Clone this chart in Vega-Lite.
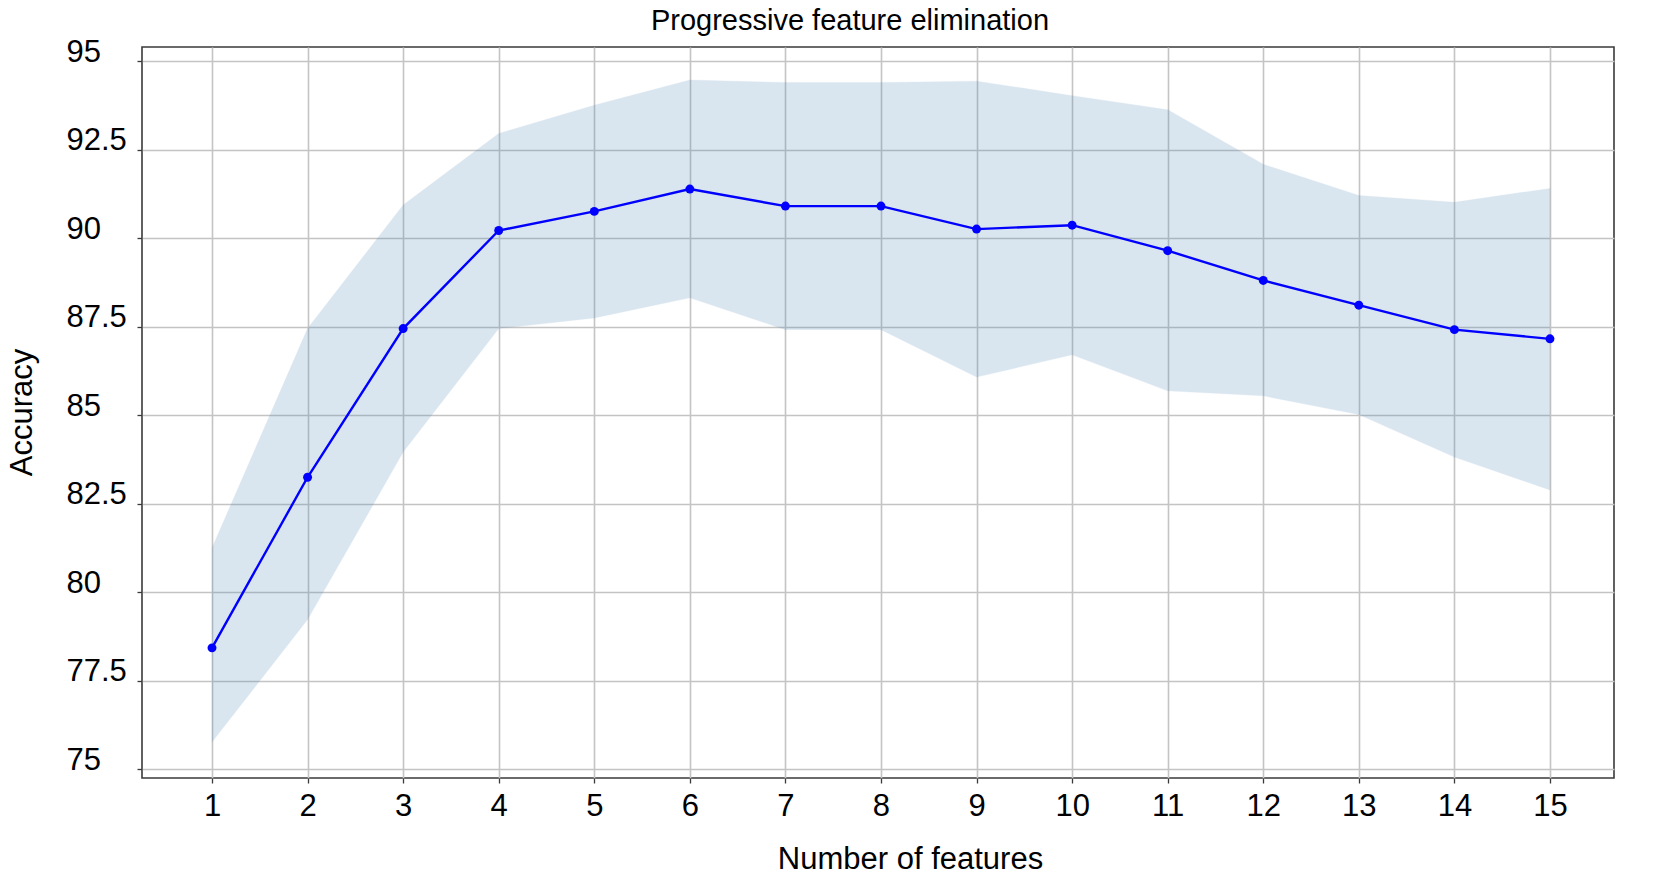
{
  "$schema": "https://vega.github.io/schema/vega-lite/v6.json",
  "width": 1472,
  "height": 731,
  "autosize": {"type": "none"},
  "padding": {"left": 142, "top": 47, "right": 40, "bottom": 101},
  "background": "white",
  "title": {
    "text": "Progressive feature elimination",
    "font": "Liberation Sans",
    "fontSize": 29,
    "fontWeight": "normal",
    "color": "#000000",
    "anchor": "middle",
    "baseline": "alphabetic",
    "dx": -28,
    "dy": 26,
    "offset": 3
  },
  "config": {
    "view": {"stroke": "#3a3a3a", "strokeWidth": 1.6},
    "axis": {
      "labelFont": "Liberation Sans",
      "titleFont": "Liberation Sans",
      "labelColor": "#000000",
      "titleColor": "#000000",
      "titleFontWeight": "normal",
      "gridColor": "#c4c4c4",
      "gridWidth": 1.6,
      "gridOpacity": 1,
      "domain": false,
      "tickColor": "#3a3a3a",
      "tickWidth": 1.3,
      "tickSize": 5
    }
  },
  "data": {
    "values": [
      {"n": 1, "acc": 78.43, "lo": 75.77, "hi": 81.25},
      {"n": 2, "acc": 83.25, "lo": 79.23, "hi": 87.45},
      {"n": 3, "acc": 87.45, "lo": 83.96, "hi": 90.94},
      {"n": 4, "acc": 90.22, "lo": 87.45, "hi": 92.96},
      {"n": 5, "acc": 90.76, "lo": 87.75, "hi": 93.76},
      {"n": 6, "acc": 91.39, "lo": 88.32, "hi": 94.47},
      {"n": 7, "acc": 90.91, "lo": 87.42, "hi": 94.40},
      {"n": 8, "acc": 90.91, "lo": 87.42, "hi": 94.40},
      {"n": 9, "acc": 90.26, "lo": 86.08, "hi": 94.44},
      {"n": 10, "acc": 90.37, "lo": 86.71, "hi": 94.03},
      {"n": 11, "acc": 89.65, "lo": 85.69, "hi": 93.63},
      {"n": 12, "acc": 88.81, "lo": 85.55, "hi": 92.09},
      {"n": 13, "acc": 88.11, "lo": 85.02, "hi": 91.21},
      {"n": 14, "acc": 87.42, "lo": 83.82, "hi": 91.02},
      {"n": 15, "acc": 87.16, "lo": 82.89, "hi": 91.41}
    ]
  },
  "encoding": {
    "x": {
      "field": "n",
      "type": "quantitative",
      "scale": {"domain": [0.2675, 15.67], "nice": false, "zero": false},
      "axis": {
        "values": [1, 2, 3, 4, 5, 6, 7, 8, 9, 10, 11, 12, 13, 14, 15],
        "title": "Number of features",
        "labelFontSize": 31,
        "labelBaseline": "alphabetic",
        "labelPadding": 32,
        "labelFlush": false,
        "labelOverlap": false,
        "titleFontSize": 31,
        "titleX": 768,
        "titleY": 90,
        "titleAnchor": null,
        "titleAlign": "center",
        "titleBaseline": "alphabetic"
      }
    }
  },
  "layer": [
    {
      "mark": {"type": "area", "color": "#4682b4", "opacity": 0.2, "stroke": "#4682b4", "strokeOpacity": 0.3, "strokeWidth": 1},
      "encoding": {
        "y": {
          "field": "lo",
          "type": "quantitative",
          "scale": {"domain": [74.754, 95.404], "nice": false, "zero": false},
          "axis": {
            "values": [75, 77.5, 80, 82.5, 85, 87.5, 90, 92.5, 95],
            "labelExpr": "datum.value",
            "title": "Accuracy",
            "labelFontSize": 31,
            "labelAlign": "left",
            "labelBaseline": "alphabetic",
            "labelPadding": 71,
            "labelFlush": false,
            "labelOverlap": false,
            "titleFontSize": 31,
            "titleAngle": -90,
            "titleX": -111,
            "titleY": 365,
            "titleAlign": "center",
            "titleBaseline": "alphabetic"
          }
        },
        "y2": {"field": "hi"}
      }
    },
    {
      "mark": {"type": "line", "color": "#0000ff", "strokeWidth": 2.4, "point": {"filled": true, "size": 80, "color": "#0000ff", "opacity": 1}},
      "encoding": {
        "y": {"field": "acc", "type": "quantitative"}
      }
    }
  ]
}
